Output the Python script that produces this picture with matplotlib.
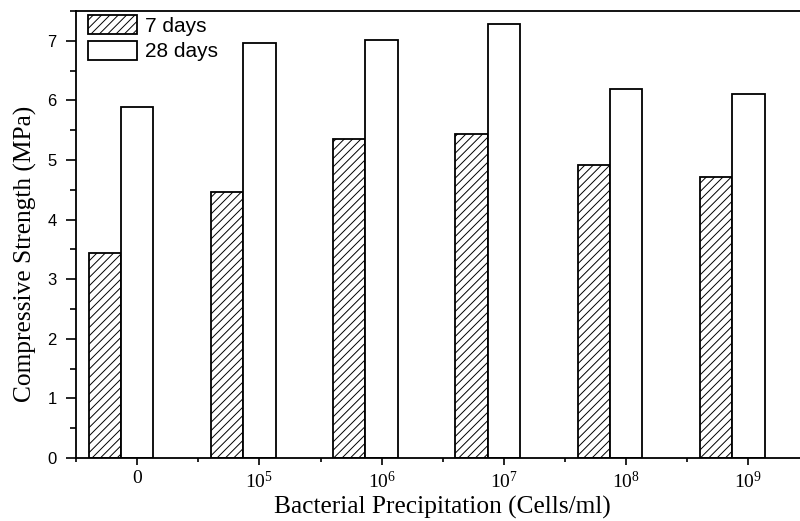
import numpy as np
import matplotlib
matplotlib.use("Agg")
import matplotlib.pyplot as plt
from matplotlib.ticker import MultipleLocator, FixedLocator

# data
categories = ['0', r'$\mathregular{10^5}$', r'$\mathregular{10^6}$',
              r'$\mathregular{10^7}$', r'$\mathregular{10^8}$', r'$\mathregular{10^9}$']
days7 = [3.44, 4.46, 5.35, 5.44, 4.91, 4.71]
days28 = [5.89, 6.97, 7.01, 7.28, 6.19, 6.10]

plt.rcParams['hatch.linewidth'] = 0.7
serif = ['Liberation Serif', 'DejaVu Serif']
sans = ['Liberation Sans', 'DejaVu Sans']

fig = plt.figure(figsize=(8, 5.21), dpi=100)
ax = fig.add_axes([0.095, 0.121, 0.917, 0.858])

x = np.arange(len(categories))
w = 0.265
ax.bar(x - w, days7, width=w, facecolor='white', edgecolor='black',
       hatch='////', linewidth=1.3, label='7 days')
ax.bar(x, days28, width=w, facecolor='white', edgecolor='black',
       linewidth=1.3, label='28 days')

ax.set_xlim(-0.5, 5.5)
ax.set_ylim(0, 7.5)

ax.set_xticks(x)
ax.set_xticklabels(categories, fontfamily=serif, fontsize=14)
ax.xaxis.set_minor_locator(FixedLocator(np.arange(-0.5, 5.6, 1.0)))
ax.yaxis.set_major_locator(MultipleLocator(1))
ax.yaxis.set_minor_locator(MultipleLocator(0.5))
for lab in ax.get_yticklabels():
    lab.set_fontfamily(sans)
    lab.set_fontsize(12)

ax.tick_params(axis='x', which='major', direction='out', length=5, width=1.2, pad=4)
ax.tick_params(axis='x', which='minor', direction='out', length=3, width=1.2)
ax.tick_params(axis='y', which='major', direction='out', length=7, width=1.2, pad=7)
ax.tick_params(axis='y', which='minor', direction='out', length=4, width=1.2)

for s in ['left', 'bottom', 'top']:
    ax.spines[s].set_linewidth(1.3)
ax.spines['right'].set_visible(False)

ax.set_xlabel('Bacterial Precipitation (Cells/ml)', fontfamily=serif, fontsize=18.3, labelpad=3)
ax.set_ylabel('Compressive Strength (MPa)', fontfamily=serif, fontsize=18.3)
ax.yaxis.set_label_coords(-0.053, 0.456)

ax.legend(loc='upper left', bbox_to_anchor=(0.016, 0.99), frameon=False,
          prop={'family': sans, 'size': 15}, handlelength=2.35, handleheight=1.0,
          labelspacing=0.24, handletextpad=0.4, borderpad=0, borderaxespad=0)

fig.savefig('out.png', dpi=100)
